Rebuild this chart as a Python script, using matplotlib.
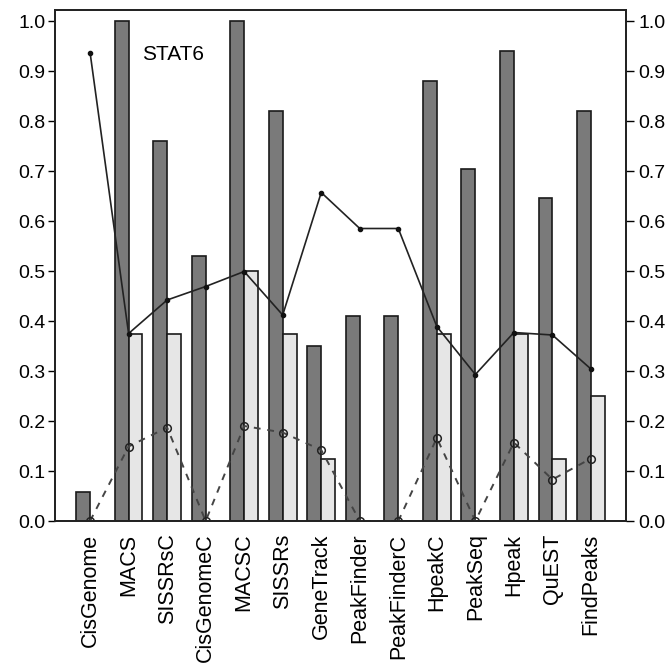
import numpy as np
import matplotlib
matplotlib.use("Agg")
import matplotlib.pyplot as plt

plt.rcParams["font.family"] = ["Liberation Sans", "DejaVu Sans"]

# Peak callers evaluated on the STAT6 data set
methods = ["CisGenome", "MACS", "SISSRsC", "CisGenomeC", "MACSC", "SISSRs",
           "GeneTrack", "PeakFinder", "PeakFinderC", "HpeakC", "PeakSeq",
           "Hpeak", "QuEST", "FindPeaks"]

# Dark bars
dark_values = [0.059, 1.0, 0.76, 0.53, 1.0, 0.82, 0.35, 0.41, 0.41,
               0.88, 0.705, 0.94, 0.647, 0.82]
# Light bars
light_values = [0.0, 0.375, 0.375, 0.0, 0.5, 0.375, 0.125, 0.0, 0.0,
                0.375, 0.0, 0.375, 0.125, 0.25]
# Solid line with small dots
solid_values = [0.937, 0.375, 0.442, 0.469, 0.499, 0.412, 0.657, 0.585,
                0.585, 0.389, 0.293, 0.377, 0.372, 0.304]
# Dashed line with open circles
dashed_values = [0.0, 0.149, 0.187, 0.0, 0.19, 0.177, 0.142, 0.0, 0.0,
                 0.166, 0.0, 0.157, 0.083, 0.125]

y_ticks = [0.0, 0.1, 0.2, 0.3, 0.4, 0.5, 0.6, 0.7, 0.8, 0.9, 1.0]
title_text = "STAT6"

fig = plt.figure(figsize=(6.68, 6.68), dpi=100)
ax = fig.add_axes([55 / 668, 1 - 521 / 668, (626 - 55) / 668, (521 - 10) / 668])

x = np.arange(len(methods))
w = 0.36
ax.bar(x - w / 2, dark_values, width=w, color="#7a7a7a", edgecolor="#1a1a1a",
       linewidth=1.2, zorder=2)
ax.bar(x + w / 2, light_values, width=w, color="#e6e6e6", edgecolor="#1a1a1a",
       linewidth=1.2, zorder=2)

ax.plot(x, solid_values, color="#222222", lw=1.2, marker="o", ms=3.0,
        mfc="#111111", mec="#111111", zorder=4)
ax.plot(x, dashed_values, color="#444444", lw=1.4, ls=(0, (3.5, 3.5)), marker="o",
        ms=5.5, mfc="none", mec="#222222", mew=1.1, zorder=4)

ax.set_xlim(-0.91, 13.91)
ax.set_ylim(0, 1.022)
ax.set_xticks(x)
ax.set_xticklabels(methods, rotation=90, fontsize=15.5)
ax.tick_params(axis="x", length=0, pad=9)
ax.set_yticks(y_ticks)
ax.set_yticklabels([f"{v:.1f}" for v in y_ticks], fontsize=14)
ax.tick_params(axis="y", direction="out", length=5, width=1.0, pad=2)

ax2 = ax.twinx()
ax2.set_ylim(ax.get_ylim())
ax2.set_yticks(y_ticks)
ax2.set_yticklabels([f"{v:.1f}" for v in y_ticks], fontsize=14)
ax2.tick_params(axis="y", direction="out", length=6, width=1.0, pad=3)

for a in (ax, ax2):
    for s in a.spines.values():
        s.set_linewidth(1.3)
        s.set_color("#222222")

ax.text(1.34, 0.934, title_text, fontsize=15, ha="left", va="center")

fig.savefig("out.png", dpi=100)
